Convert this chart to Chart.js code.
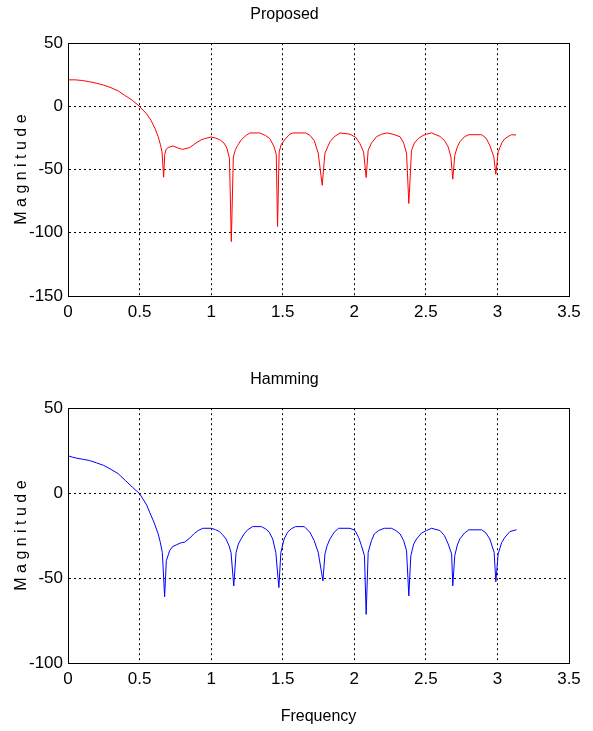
<!DOCTYPE html>
<html>
<head>
<meta charset="utf-8">
<script src="https://cdn.jsdelivr.net/npm/chart.js@4"></script>
<style>
html,body{margin:0;padding:0;background:#fff;}
#wrap{position:relative;width:593px;height:731px;}
canvas{position:absolute;left:0;}
</style>
</head>
<body>
<div id="wrap">
<canvas id="c1" width="593" height="365" style="top:0"></canvas>
<canvas id="c2" width="593" height="366" style="top:365px"></canvas>
</div>
<script>
const xTicks = [0, 0.5, 1, 1.5, 2, 2.5, 3, 3.5];
const topYTicks = [50, 0, -50, -100, -150];
const botYTicks = [50, 0, -50, -100];

const propFreq = [0.00,0.05,0.10,0.15,0.20,0.25,0.30,0.35,0.40,0.45,0.50,0.55,0.58,0.61,0.63,0.645,0.657,0.668,0.676,0.685,0.70,0.733,0.77,0.80,0.85,0.895,0.93,0.954,1.00,1.03,1.06,1.09,1.11,1.128,1.141,1.155,1.17,1.186,1.21,1.244,1.27,1.34,1.38,1.41,1.44,1.455,1.464,1.475,1.49,1.52,1.55,1.57,1.66,1.69,1.72,1.748,1.776,1.795,1.83,1.86,1.90,1.97,2.01,2.04,2.065,2.083,2.097,2.12,2.155,2.19,2.23,2.27,2.32,2.345,2.365,2.381,2.40,2.42,2.446,2.48,2.504,2.54,2.598,2.63,2.656,2.675,2.688,2.702,2.72,2.737,2.77,2.80,2.89,2.92,2.947,2.975,2.989,3.005,3.03,3.052,3.08,3.098,3.13];
const propMag = [21,21,20.5,19.5,18.3,16.8,14.8,12.3,8.5,4.8,0,-6,-11,-18,-24,-30,-36,-56,-38,-34,-32.5,-31.3,-33,-34,-32.6,-28.9,-26.5,-25.5,-24.2,-25,-26.3,-29,-33,-41,-107,-40,-34,-30.8,-26.5,-22.9,-21,-21,-23,-25.5,-32,-38,-95,-36,-30,-25.5,-22,-21,-21,-22.9,-27,-37,-62.4,-37,-28,-24,-21,-22,-24.5,-29.5,-36,-56.3,-34.7,-29,-24,-22,-21,-22,-24,-29,-37,-76.8,-34.7,-29,-25.5,-23,-22,-21,-23.7,-27,-32,-40,-57.6,-38.7,-32,-28,-24,-22.4,-22.4,-25,-30.8,-40,-53.7,-36,-29,-25.5,-23.5,-22.4,-22.6];

const hamFreq = [0.00,0.03,0.06,0.10,0.15,0.20,0.25,0.30,0.35,0.40,0.45,0.50,0.55,0.57,0.60,0.63,0.645,0.659,0.675,0.687,0.71,0.73,0.756,0.79,0.814,0.85,0.884,0.91,0.942,1.00,1.03,1.058,1.08,1.104,1.125,1.139,1.158,1.174,1.19,1.209,1.23,1.255,1.29,1.35,1.38,1.406,1.43,1.452,1.473,1.487,1.51,1.534,1.56,1.59,1.65,1.69,1.72,1.748,1.781,1.795,1.81,1.83,1.86,1.89,1.97,2.005,2.03,2.05,2.071,2.083,2.097,2.12,2.14,2.17,2.21,2.26,2.29,2.32,2.345,2.365,2.381,2.395,2.415,2.435,2.47,2.504,2.54,2.598,2.63,2.656,2.68,2.688,2.702,2.72,2.737,2.77,2.80,2.89,2.92,2.947,2.977,2.989,3.005,3.03,3.052,3.087,3.133];
const hamMag = [22,21.2,20.6,20,19.2,17.8,16.3,14,11.5,7.5,3.5,-0.3,-7,-11.2,-17,-24,-29,-35,-61,-39.8,-33.9,-31.5,-30.5,-29.2,-28.9,-26.5,-23.6,-22,-20.7,-20.7,-21.5,-22.6,-24.5,-27,-31,-35,-54.6,-35,-30,-27,-24,-21.6,-19.7,-19.7,-21,-23,-27,-35,-55.6,-35,-27,-23,-21,-19.7,-19.7,-23,-28,-34.9,-51.6,-35.8,-31,-27,-23,-20.7,-20.7,-22,-26,-30.9,-36.8,-71.4,-34.9,-28,-24,-22,-20.7,-20.7,-22,-24,-28,-33.9,-60.5,-36.8,-30,-27,-23.5,-22,-20.7,-22,-25,-29.9,-35.8,-54.6,-36.8,-30.5,-27,-23.5,-21.6,-21.6,-23.5,-27,-34.9,-52.2,-35.8,-29,-26,-22.6,-21.6];

const FONT = "'Liberation Sans Narrow','Arial Narrow','Liberation Sans',Arial,sans-serif";

const boxPlugin = {
  id: 'box',
  afterDatasetsDraw(chart) {
    const a = chart.chartArea, ctx = chart.ctx;
    ctx.save();
    ctx.strokeStyle = '#000';
    ctx.lineWidth = 1;
    ctx.setLineDash([]);
    ctx.strokeRect(Math.round(a.left) + 0.5, Math.round(a.top) + 0.5, Math.round(a.right - a.left), Math.round(a.bottom - a.top));
    ctx.restore();
  }
};

function makeChart(id, title, freq, mag, color, yTicks, showXTitle, xAxisH) {
  const pts = freq.map((f, i) => ({x: f, y: mag[i]}));
  return new Chart(document.getElementById(id), {
    type: 'scatter',
    data: { datasets: [{ data: pts, showLine: true, borderColor: color, borderWidth: 1, pointRadius: 0, tension: 0, fill: false }] },
    plugins: [boxPlugin],
    options: {
      responsive: false,
      animation: false,
      devicePixelRatio: 1,
      layout: { padding: { left: 0, right: 24, top: 0, bottom: 0 } },
      plugins: {
        legend: { display: false },
        tooltip: { enabled: false },
        title: { display: true, text: title, color: '#000', font: { family: FONT, size: 16, weight: 'normal' }, padding: { top: 5, bottom: 19 } }
      },
      scales: {
        x: {
          type: 'linear', min: xTicks[0], max: xTicks[xTicks.length - 1],
          afterBuildTicks: (s) => { s.ticks = xTicks.map(v => ({value: v})); },
          afterFit: (s) => { s.height = xAxisH; },
          ticks: { color: '#000', font: { family: FONT, size: 17 }, padding: 6, maxRotation: 0, autoSkip: false, callback: (v) => String(v) },
          grid: { color: '#000', lineWidth: 1, drawTicks: false },
          border: { display: true, color: '#000', dash: [2, 3] },
          title: { display: showXTitle, text: 'Frequency', color: '#000', font: { family: FONT, size: 16 }, padding: { top: 0, bottom: 5 } }
        },
        y: {
          type: 'linear', min: yTicks[yTicks.length - 1], max: yTicks[0],
          afterBuildTicks: (s) => { s.ticks = yTicks.slice().reverse().map(v => ({value: v})); },
          afterFit: (s) => { s.width = 68; },
          ticks: { color: '#000', font: { family: FONT, size: 17 }, padding: 5, autoSkip: false, callback: (v) => String(v) },
          grid: { color: '#000', lineWidth: 1, drawTicks: false },
          border: { display: true, color: '#000', dash: [2, 3] },
          title: { display: true, text: 'M a g n i t u d e', color: '#000', font: { family: FONT, size: 16 }, padding: { top: 12, bottom: 0 } }
        }
      }
    }
  });
}

makeChart('c1', 'Proposed', propFreq, propMag, '#ff0000', topYTicks, false, 69);
makeChart('c2', 'Hamming', hamFreq, hamMag, '#0000ff', botYTicks, true, 68);
</script>
</body>
</html>
